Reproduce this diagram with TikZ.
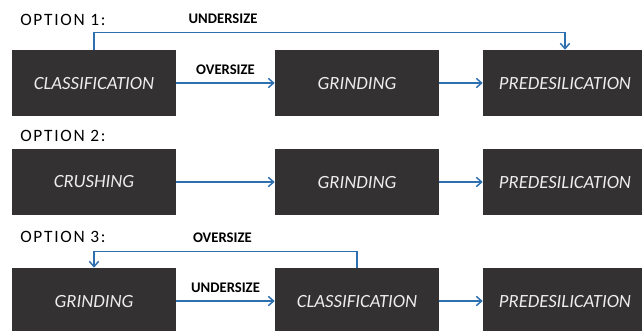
\documentclass[tikz,border=0pt]{standalone}
\usepackage{fontspec}
\setmainfont{Carlito}
\newfontfamily\optfont[LetterSpace=10]{Carlito}
\usetikzlibrary{arrows.meta}
\definecolor{boxgray}{HTML}{333132}
\definecolor{boxtext}{HTML}{EDEDED}
\definecolor{flowblue}{HTML}{2E6FB0}
\begin{document}
\begin{tikzpicture}[x=0.75pt, y=-0.75pt,
    stage/.style={fill=boxgray, text=boxtext, minimum width=123pt,
      minimum height=49.5pt, inner sep=0pt, font=\fontsize{14}{16}\selectfont\itshape},
    option/.style={anchor=west, inner sep=0pt, font=\fontsize{13}{15}\selectfont\optfont},
    flowlabel/.style={above, inner sep=6pt, font=\fontsize{11}{13}\selectfont\bfseries}]
    \useasboundingbox (0,0) rectangle (642,330);
    % option 1
    \node [option] (opt1) at (20,20) {OPTION 1:};
    \begin{scope}[every node/.style={stage}]
      \node (cls1) at (94,83) {CLASSIFICATION}; \node (grd1) at
      (357,83) {GRINDING}; \node (pre1) at (565,83) {PREDESILICATION};
    \end{scope}
    % option 2
    \node [option] (opt2) at (20,136) {OPTION 2:};
    \begin{scope}[every node/.style={stage}]
      \node (cru2) at (94,182) {CRUSHING}; \node (grd2) at (357,182)
      {GRINDING}; \node (pre2) at (565,182) {PREDESILICATION};
    \end{scope}
    % option 3
    \node [option] (opt3) at (20,237) {OPTION 3:};
    \begin{scope}[every node/.style={stage}]
      \node (grd3) at (94,301) {GRINDING}; \node (cls3) at (357,301)
      {CLASSIFICATION}; \node (pre3) at (565,301) {PREDESILICATION};
    \end{scope}
    \begin{scope}[->, >={Straight Barb[length=4pt, width=7pt]},
      draw=flowblue, line width=1.1pt]
      \draw (cls1) to node [flowlabel] {OVERSIZE} (grd1); \draw (grd1)
      to (pre1); \draw (cls1.north) -- ++(0,-17) -| node [flowlabel,
      pos=0.137] {UNDERSIZE} (pre1.north);
      \draw (cru2) to (grd2); \draw (grd2) to (pre2);
      \draw (grd3) to node [flowlabel] {UNDERSIZE} (cls3); \draw (cls3)
      to (pre3); \draw (cls3.north) -- ++(0,-16) -| node [flowlabel,
      pos=0.256] {OVERSIZE} (grd3.north);
    \end{scope}
  \end{tikzpicture}
\end{document}
